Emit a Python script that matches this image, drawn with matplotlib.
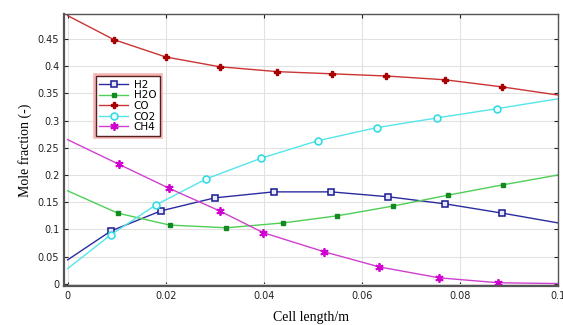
import matplotlib
matplotlib.use("Agg")
import matplotlib.pyplot as plt
import matplotlib.patheffects as pe

# ── data (x in m, y mole fraction) ─────────────────────────────────────────
h2_x = [0.0, 0.0088, 0.019, 0.030, 0.042, 0.0538, 0.0654, 0.077, 0.0886, 0.1]
h2_y = [0.044, 0.097, 0.134, 0.158, 0.169, 0.169, 0.160, 0.147, 0.130, 0.112]

h2o_x = [0.0, 0.0102, 0.0208, 0.0324, 0.044, 0.055, 0.0664, 0.0776, 0.0888, 0.1]
h2o_y = [0.171, 0.130, 0.108, 0.103, 0.112, 0.125, 0.143, 0.163, 0.182, 0.200]

co_x = [0.0, 0.0094, 0.020, 0.031, 0.0428, 0.054, 0.065, 0.077, 0.0886, 0.1]
co_y = [0.493, 0.449, 0.417, 0.399, 0.390, 0.386, 0.382, 0.375, 0.362, 0.347]

co2_x = [0.0, 0.0088, 0.018, 0.0283, 0.0395, 0.051, 0.063, 0.0754, 0.0876, 0.1]
co2_y = [0.028, 0.090, 0.145, 0.193, 0.231, 0.263, 0.287, 0.305, 0.322, 0.340]

ch4_x = [0.0, 0.0104, 0.0206, 0.031, 0.0399, 0.0523, 0.0636, 0.0758, 0.0878, 0.1]
ch4_y = [0.265, 0.220, 0.176, 0.134, 0.094, 0.059, 0.031, 0.011, 0.002, 0.0005]

x_ticks = [0, 0.02, 0.04, 0.06, 0.08, 0.1]
x_labels = ["0", "0.02", "0.04", "0.06", "0.08", "0.1"]
y_ticks = [0, 0.05, 0.1, 0.15, 0.2, 0.25, 0.3, 0.35, 0.4, 0.45]
y_labels = ["0", "0.05", "0.1", "0.15", "0.2", "0.25", "0.3", "0.35", "0.4", "0.45"]

fig = plt.figure(figsize=(5.63, 3.25), dpi=100)
ax = fig.add_axes([0.114, 0.12, 0.877, 0.837])

mk = slice(1, -1)
ax.plot(h2_x, h2_y, color="#2b2ba0", lw=1.0, marker="s", ms=5,
        mfc="#e8e8ff", mec="#1a1a90", mew=1.1, markevery=mk, label="H2")
ax.plot(h2o_x, h2o_y, color="#4fcf55", lw=1.0, marker="s", ms=3,
        mfc="#128a20", mec="#128a20", markevery=mk, label="H2O")
ax.plot(co_x, co_y, color="#cc3333", lw=1.0, marker="P", ms=5,
        mfc="#a80000", mec="#a80000", markevery=mk, label="CO")
ax.plot(co2_x, co2_y, color="#55e6ea", lw=1.0, marker="o", ms=5,
        mfc="#e8ffff", mec="#30d8e0", mew=1.1, markevery=mk, label="CO2")
ax.plot(ch4_x, ch4_y, color="#d040d0", lw=1.0, marker=(6, 2, 0), ms=6,
        mec="#d000d0", mew=1.3, markevery=mk, label="CH4")

ax.set_xlim(-0.0007, 0.1)
ax.set_ylim(-0.004, 0.496)
ax.set_xticks(x_ticks)
ax.set_xticklabels(x_labels)
ax.set_yticks(y_ticks)
ax.set_yticklabels(y_labels)
ax.tick_params(direction="in", top=True, right=True, length=3,
               labelsize=7, colors="#222222")
ax.grid(True, color="#e2e2e2", lw=0.8)
for s in ax.spines.values():
    s.set_color("#555555")
    s.set_linewidth(1.0)
ax.spines["left"].set_linewidth(1.6)
ax.spines["bottom"].set_linewidth(1.6)

ax.set_xlabel("Cell length/m", family="Liberation Serif", fontsize=10, labelpad=7)
ax.set_ylabel("Mole fraction (-)", family="Liberation Serif", fontsize=10, labelpad=4)

leg = ax.legend(loc="upper left", bbox_to_anchor=(0.053, 0.79), fontsize=7.5,
                frameon=True, fancybox=False, borderpad=0.35, labelspacing=0.05,
                handlelength=2.8, handletextpad=0.5)
fr = leg.get_frame()
fr.set_edgecolor("#5a2020")
fr.set_linewidth(1.0)
fr.set_alpha(1)
fr.set_path_effects([pe.withStroke(linewidth=4, foreground="#f5b5b5")])

fig.savefig("out.png", dpi=100)
